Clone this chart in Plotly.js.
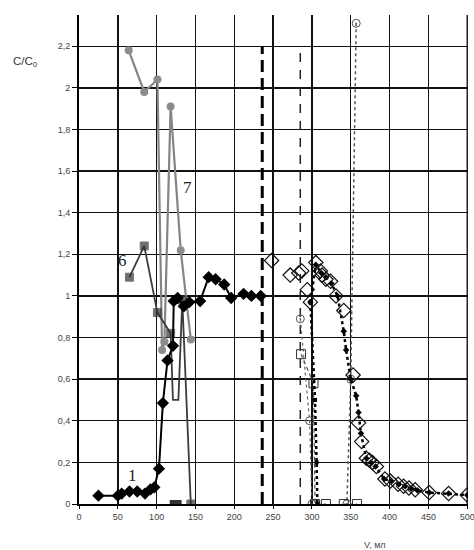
<!DOCTYPE html>
<html><head><meta charset="utf-8">
<script src="https://cdn.plot.ly/plotly-3.0.1.min.js"></script>
<style>body{margin:0;background:#fff}#c{width:474px;height:550px}</style>
</head><body><div id="c"></div>
<script>
// Series 1 (black diamonds)
const s1x = [25,50,55,65,75,85,92,97,103,108,114,121,122,127,135,142,156,167,176,187,196,212,222,234];
const s1y = [0.04,0.04,0.05,0.06,0.06,0.05,0.07,0.08,0.17,0.485,0.69,0.76,0.975,0.99,0.95,0.97,0.975,1.09,1.08,1.055,0.99,1.01,1.0,1.0];
// Series 6 (dark squares)
const s6x = [65,84,101,118,121,128,133,144];
const s6y = [1.09,1.24,0.92,0.82,0.5,0.5,0.98,0];
const s6zx = [122,127];
const s6zy = [0,0];
// Series 7 (grey circles)
const s7x = [64,84,101,107,110,118,131,144];
const s7y = [2.18,1.98,2.04,0.74,0.78,1.91,1.22,0.79];
// Right part: open diamonds
const dx = [248,272,283,287,294,298,305,311,313,318,324,331,341,353,360,364,370,374,378,383,394,401,411,418,425,433,451,476,500];
const dy = [1.17,1.1,1.11,1.12,1.03,0.97,1.16,1.12,1.1,1.08,1.07,1.0,0.93,0.62,0.39,0.3,0.22,0.21,0.2,0.18,0.12,0.11,0.095,0.085,0.077,0.068,0.055,0.05,0.043];
// small black markers, thick dotted curve
const ex = [298,305,312,318,325,333,341,344,350,357,360,363,370,376,382,393,402,412,420,428,436,451,476,500];
const ey = [0.97,1.15,1.11,1.09,1.06,1.0,0.83,0.74,0.6,0.52,0.44,0.34,0.22,0.2,0.18,0.12,0.11,0.095,0.085,0.075,0.065,0.055,0.05,0.043];
const fx = [298,304,306,307];
const fy = [0.97,0.5,0.2,0];
// circle-dot series
const px = [285,297,300];
const py = [0.89,0.4,0];
const rx = [357,350,345];
const ry = [2.31,0.6,0];
// open squares
const qx = [286,302,304,318];
const qy = [0.72,0.58,0,0];
const sx = [341,358];
const sy = [0,0];
// vertical reference lines
const vThick = [236];
const vThin = [285];
const vTop = 2.2;

const xTicks = [0,50,100,150,200,250,300,350,400,450,500];
const yTicks = [0,0.2,0.4,0.6,0.8,1,1.2,1.4,1.6,1.8,2,2.2];
const xMax = xTicks[xTicks.length-1];
const yTop = 2.35;

const traces = [
  // right border gridline at the last x tick
  {x:[xMax,xMax], y:[0,yTop], mode:'lines', line:{color:'#111',width:1.4}, cliponaxis:false},
  {x:[vThick[0],vThick[0]], y:[0,vTop], mode:'lines', line:{color:'#000',width:3,dash:'12px,6px'}},
  {x:[vThin[0],vThin[0]], y:[0,vTop], mode:'lines', line:{color:'#222',width:1.5,dash:'9px,8px'}},
  {x:s7x, y:s7y, mode:'lines+markers', line:{color:'#858585',width:2.2}, marker:{symbol:'circle',size:8,color:'#8c8c8c'}},
  {x:s6x, y:s6y, mode:'lines+markers', line:{color:'#3c3c3c',width:1.8},
   marker:{symbol:'square',size:[8,8,8,8,0,0,8,8],color:'#333'}},
  {x:s6zx, y:s6zy, mode:'markers', marker:{symbol:'square',size:8,color:'#333'}},
  {x:s1x, y:s1y, mode:'lines+markers', line:{color:'#000',width:2}, marker:{symbol:'diamond',size:9.5,color:'#000'}},
  {x:px, y:py, mode:'lines+markers', line:{color:'#666',width:1.2,dash:'dot'}, marker:{symbol:'circle-open-dot',size:8,color:'#555'}},
  {x:rx, y:ry, mode:'lines+markers', line:{color:'#555',width:1.5,dash:'dot'}, marker:{symbol:'circle-open-dot',size:8,color:'#555',line:{width:1}}},
  {x:qx, y:qy, mode:'lines+markers', line:{color:'#555',width:1.2,dash:'4px,3px'}, marker:{symbol:'square-open',size:9,color:'#333'}},
  {x:sx, y:sy, mode:'lines+markers', line:{color:'#555',width:1.2,dash:'dot'}, marker:{symbol:'square-open',size:9,color:'#333'}},
  {x:fx, y:fy, mode:'lines+markers', line:{color:'#000',width:2.5,dash:'dot'}, marker:{symbol:'square',size:4,color:'#000'}},
  {x:ex, y:ey, mode:'lines+markers', line:{color:'#000',width:2.5,dash:'dot'}, marker:{symbol:'diamond',size:5,color:'#000'}},
  {x:dx, y:dy, mode:'markers', marker:{symbol:'diamond-open',size:11,color:'#111',line:{width:1.2}}}
];

const layout = {
  width:474, height:550,
  margin:{l:79,r:6,t:15,b:46},
  paper_bgcolor:'#fff', plot_bgcolor:'#fff',
  showlegend:false,
  separators:', ',
  font:{family:'Liberation Sans, Arial, sans-serif',size:9,color:'#444'},
  xaxis:{range:[0,501], tickvals:xTicks, ticktext:xTicks.map(String), ticklabeloverflow:'allow',
    showgrid:true, gridcolor:'#111', gridwidth:1.4, zeroline:false,
    showline:true, linecolor:'#000', linewidth:2, ticks:'outside', ticklen:3, tickcolor:'#000',
    tickfont:{size:9,color:'#444'}, fixedrange:true},
  yaxis:{range:[0,yTop], tickvals:yTicks, ticktext:yTicks.map(v=>String(v).replace('.',',')),
    showgrid:true, gridcolor:'#111', gridwidth:1.4, zeroline:false,
    showline:true, linecolor:'#000', linewidth:2, ticks:'outside', ticklen:5, tickcolor:'#000',
    tickfont:{size:9,color:'#444'}, fixedrange:true},
  annotations:[
    {text:'C/C<sub>0</sub>', xref:'paper', yref:'paper', x:-0.137, y:0.904, xanchor:'center', yanchor:'middle', showarrow:false, font:{size:11.5,color:'#333'}},
    {text:'V, мл', xref:'paper', yref:'paper', x:0.76, y:-0.084, xanchor:'center', yanchor:'middle', showarrow:false, font:{size:9,color:'#444'}},
    {text:'1', x:s1x[3], y:s1y[3], xref:'x', yref:'y', xshift:3, yshift:16, showarrow:false, font:{family:'Liberation Serif, Times New Roman, serif',size:17,color:'#222'}},
    {text:'6', x:s6x[0], y:s6y[0], xref:'x', yref:'y', xshift:-7, yshift:17, showarrow:false, font:{family:'Liberation Serif, Times New Roman, serif',size:17,color:'#222'}},
    {text:'7', x:s7x[6], y:s7y[6], xref:'x', yref:'y', xshift:7, yshift:63, showarrow:false, font:{family:'Liberation Serif, Times New Roman, serif',size:17,color:'#222'}}
  ]
};
Plotly.newPlot('c', traces, layout, {displayModeBar:false, staticPlot:true});
</script></body></html>
